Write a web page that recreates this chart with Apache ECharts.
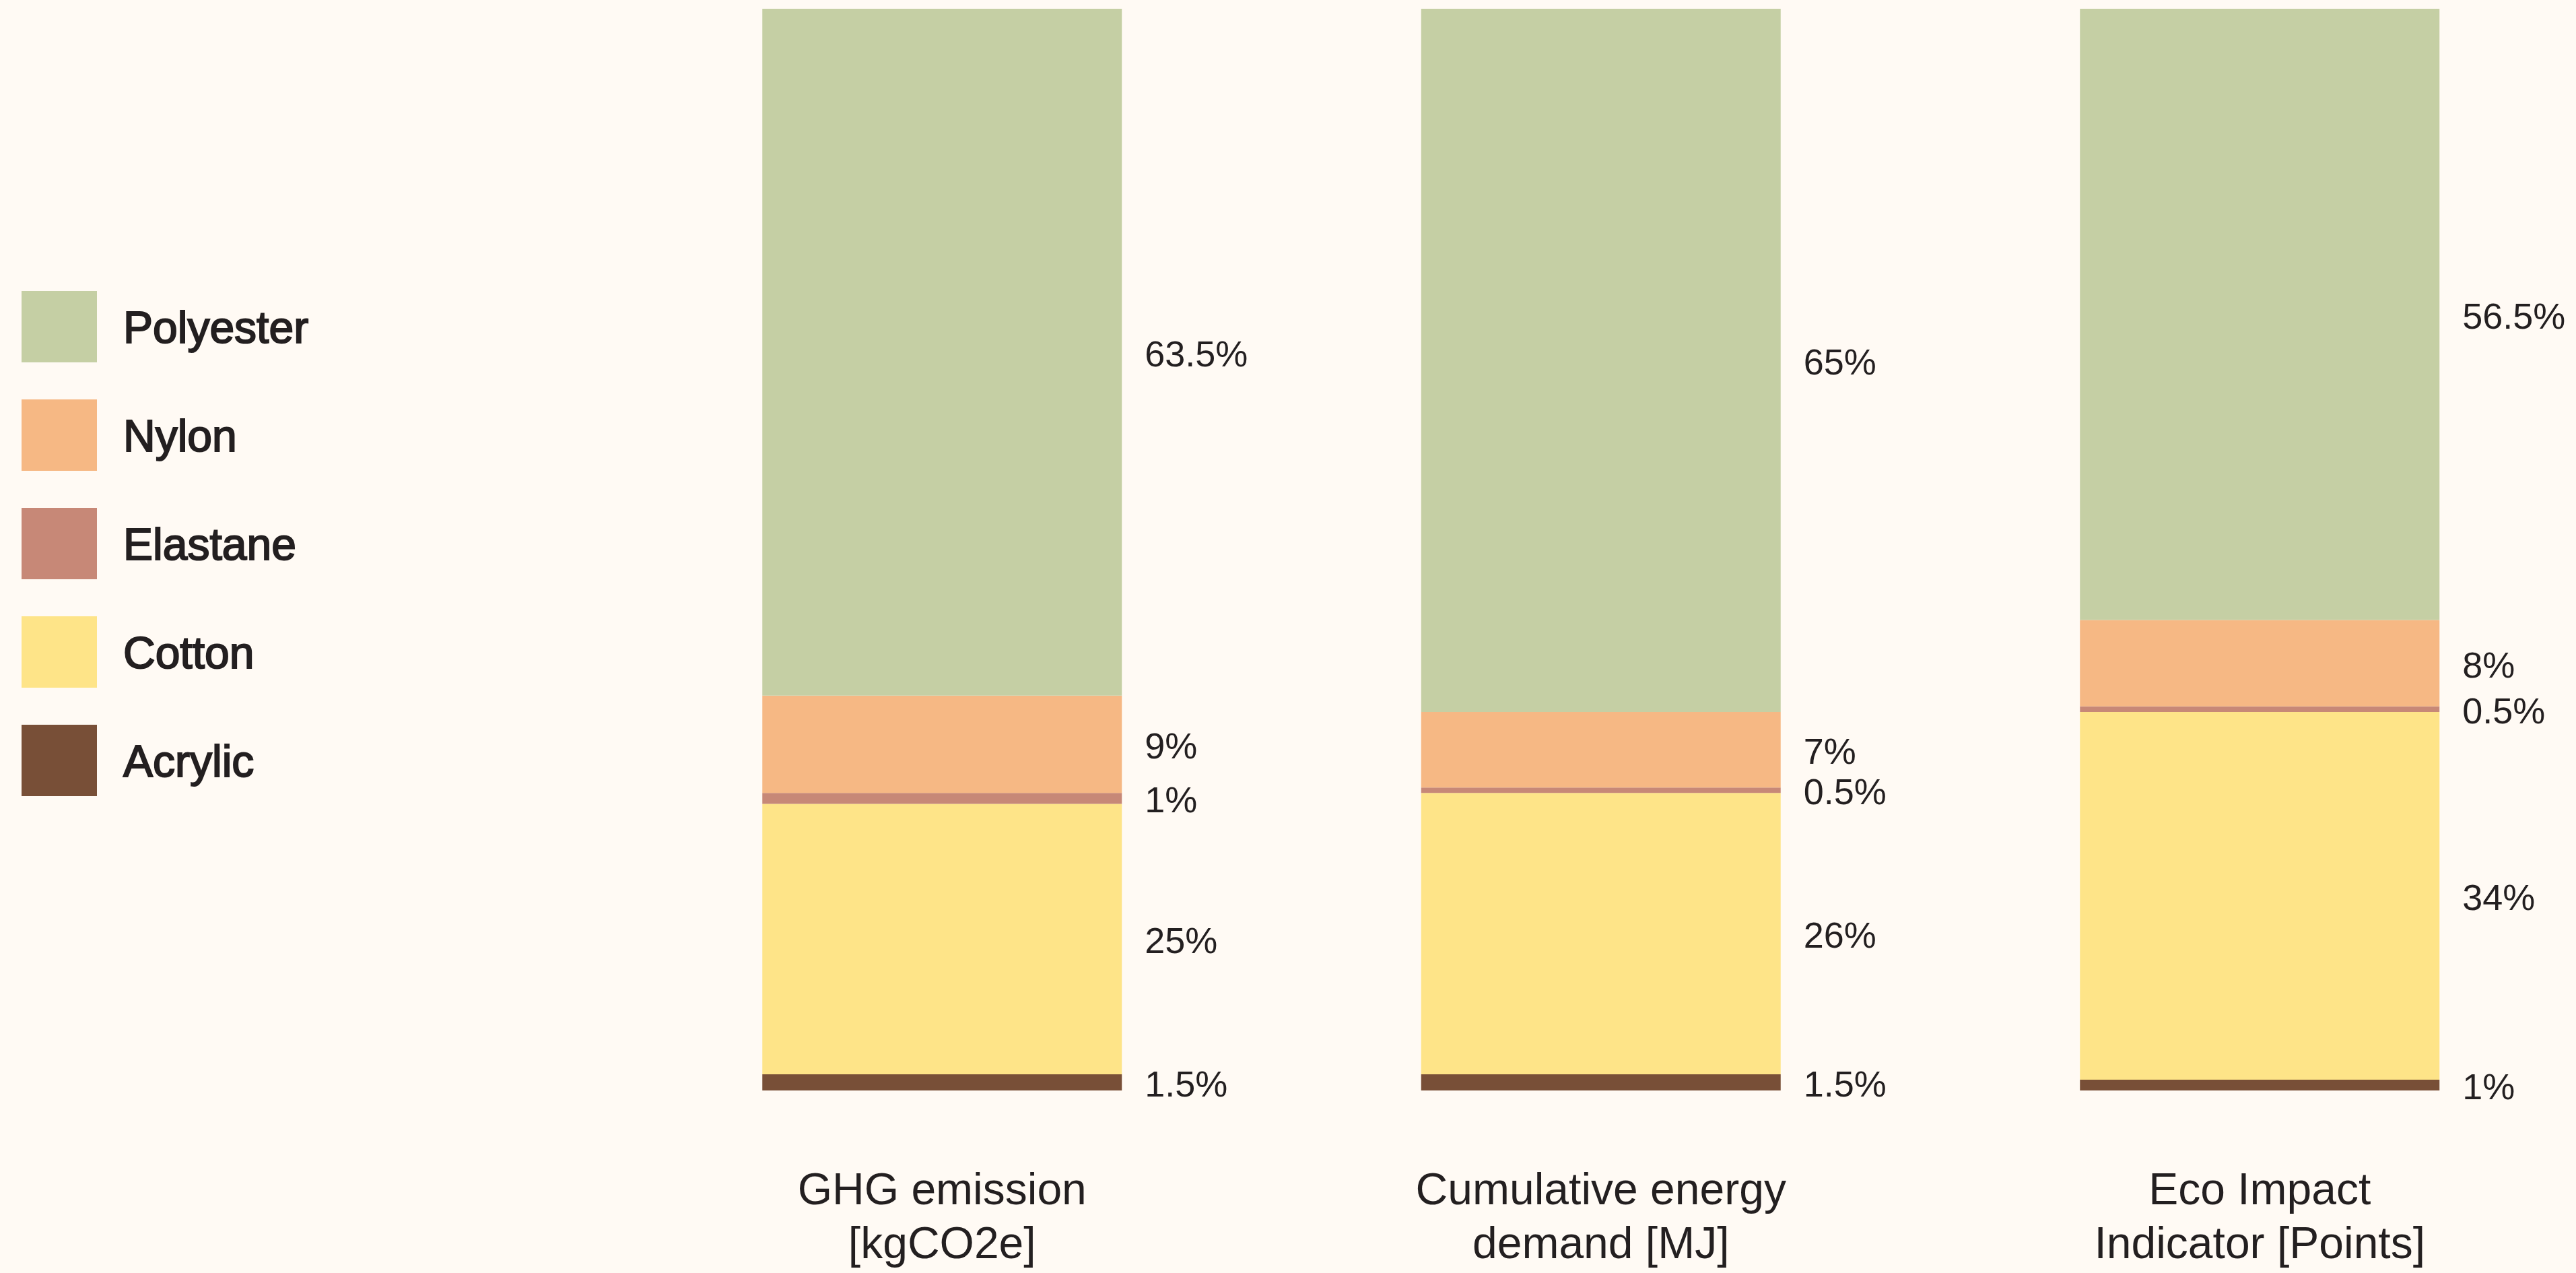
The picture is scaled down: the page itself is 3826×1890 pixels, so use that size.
<!DOCTYPE html>
<html>
<head>
<meta charset="utf-8">
<style>
  html, body { margin: 0; padding: 0; background: #fffaf4; }
  #chart { width: 3826px; height: 1890px; }
</style>
<script src="https://cdn.jsdelivr.net/npm/echarts@6/dist/echarts.min.js"></script>
</head>
<body>
<div id="chart"></div>
<script>
// Impact categories (x axis)
const categories = ['GHG emission\n[kgCO2e]', 'Cumulative energy\ndemand [MJ]', 'Eco Impact\nIndicator [Points]'];

// Share of each fibre in every impact category, in percent
const acrylic   = [1.5, 1.5, 1];
const cotton    = [25, 26, 34];
const elastane  = [1, 0.5, 0.5];
const nylon     = [9, 7, 8];
const polyester = [63.5, 65, 56.5];

const legendOrder = ['Polyester', 'Nylon', 'Elastane', 'Cotton', 'Acrylic'];

const textColor = '#231f20';
const fontFamily = '"Liberation Sans", Arial, Helvetica, sans-serif';

function stackSeries(name, data, color) {
  return {
    name: name,
    type: 'bar',
    stack: 'share',
    data: data,
    barWidth: 534,
    itemStyle: { color: color },
    label: {
      show: true,
      position: 'right',
      distance: 34,
      offset: [0, 6],
      color: textColor,
      fontFamily: fontFamily,
      fontSize: 54,
      formatter: p => p.value + '%'
    },
    emphasis: { disabled: true }
  };
}

const chart = echarts.init(document.getElementById('chart'), null, { renderer: 'canvas' });

chart.setOption({
  backgroundColor: '#fffaf4',
  animation: false,
  textStyle: { fontFamily: fontFamily },
  legend: {
    data: legendOrder,
    orient: 'vertical',
    left: 32,
    top: 432,
    padding: 0,
    itemWidth: 112,
    itemHeight: 106,
    itemGap: 55,
    icon: 'rect',
    selectedMode: false,
    formatter: name => '{t|' + name + '}',
    textStyle: {
      color: textColor,
      fontFamily: fontFamily,
      fontSize: 66,
      padding: [0, 0, 0, 34],
      rich: {
        t: {
          color: textColor,
          fontFamily: fontFamily,
          fontSize: 66,
          textBorderColor: textColor,
          textBorderWidth: 2,
          padding: [12, 0, 0, 0]
        }
      }
    }
  },
  grid: {
    left: 910,
    top: 13,
    bottom: 271,
    width: 2935.5,
    outerBoundsMode: 'none',
    containLabel: false
  },
  xAxis: {
    type: 'category',
    data: categories,
    axisLine: { show: false },
    axisTick: { show: false },
    axisLabel: {
      color: textColor,
      fontFamily: fontFamily,
      fontSize: 66,
      lineHeight: 80,
      margin: 111,
      align: 'center'
    }
  },
  yAxis: {
    type: 'value',
    min: 0,
    max: 100,
    show: false,
    splitLine: { show: false }
  },
  series: [
    stackSeries('Acrylic', acrylic, '#784f37'),
    stackSeries('Cotton', cotton, '#fee488'),
    stackSeries('Elastane', elastane, '#c78877'),
    stackSeries('Nylon', nylon, '#f6b884'),
    stackSeries('Polyester', polyester, '#c5cfa4')
  ]
});
</script>
</body>
</html>
